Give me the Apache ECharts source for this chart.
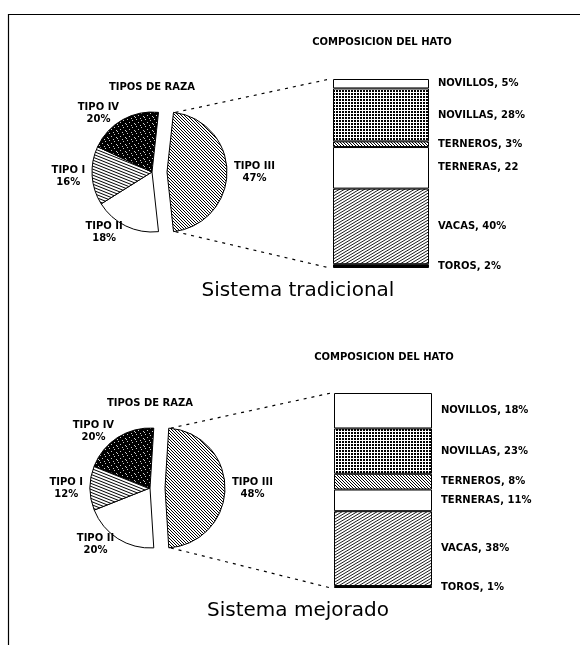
<!DOCTYPE html>
<html>
<head>
<meta charset="utf-8">
<script src="https://cdn.jsdelivr.net/npm/echarts@6/dist/echarts.min.js"></script>
<style>
  html, body { margin: 0; padding: 0; background: #fff; }
  #chart { width: 586px; height: 645px; }
</style>
</head>
<body>
<div id="chart"></div>
<script>
// Breed types, share of herd (%), in drawing order (clockwise from the exploded slice)
const breedNames = ['TIPO III', 'TIPO II', 'TIPO I', 'TIPO IV'];
const breedTradicional = [47, 18, 16, 20];
const breedMejorado = [48, 20, 12, 20];

// Herd composition (%), stacked from bottom to top
const herdNames = ['TOROS', 'VACAS', 'TERNERAS', 'TERNEROS', 'NOVILLAS', 'NOVILLOS'];
const herdTradicional = [2, 40, 22, 3, 28, 5];
const herdMejorado = [1, 38, 11, 8, 23, 18];
const herdUnitTradicional = ['%', '%', '', '%', '%', '%'];
const herdUnitMejorado = ['%', '%', '%', '%', '%', '%'];

const panelTitles = ['Sistema tradicional', 'Sistema mejorado'];
const pieTitle = 'TIPOS DE RAZA';
const barTitle = 'COMPOSICION DEL HATO';

const FONT = 'DejaVu Sans';
const INK = '#000';

// ---- fill patterns -------------------------------------------------------
function tile(w, h, draw) {
  const c = document.createElement('canvas');
  c.width = w; c.height = h;
  const g = c.getContext('2d');
  g.fillStyle = '#fff'; g.fillRect(0, 0, w, h);
  g.fillStyle = '#000';
  g.strokeStyle = '#000';
  draw(g, w, h);
  return { image: c, repeat: 'repeat' };
}
const dot = (g, x, y) => g.fillRect(x, y, 1, 1);

// parallel lines across a w x h tile, each falling `rise` px over the tile width
function hatch(w, h, rise, width) {
  return tile(w, h, g => {
    g.lineWidth = width;
    const span = Math.abs(rise) + 2 * h;
    for (let y0 = -span; y0 <= span; y0 += h) {
      g.beginPath();
      g.moveTo(-1, y0 - rise / w);
      g.lineTo(w + 1, y0 + rise + rise / w);
      g.stroke();
    }
  });
}

const backHatch = hatch(3, 3, 3, 1);      // "\\\"
const fwdHatch = hatch(5, 3, -3, 0.9);    // "///", shallower
const flatHatch = hatch(15, 3, 6, 1);     // nearly flat, sloping down to the right
const dotScreen = tile(3, 3, g => { g.fillRect(0, 0, 2, 2); });
// near-black grain
const stipple = tile(9, 7, g => {
  g.fillRect(0, 0, 9, 7);
  g.fillStyle = 'rgba(255,255,255,0.8)';
  [[1, 0], [6, 1], [3, 3], [8, 4], [0, 5], [5, 6]].forEach(p => dot(g, p[0], p[1]));
});
const white = '#ffffff';
const black = '#000000';

const breedFills = [backHatch, white, flatHatch, stipple];
const herdFills = [black, fwdHatch, white, backHatch, dotScreen, white];

// ---- panels --------------------------------------------------------------
const sum = arr => arr.reduce((a, b) => a + b, 0);

function pieSeries(values, center) {
  return {
    type: 'pie',
    center: center,
    radius: 60,
    startAngle: values[0] / sum(values) * 180,
    clockwise: true,
    selectedMode: 'single',
    selectedOffset: 15,
    avoidLabelOverlap: false,
    animation: false,
    emphasis: { disabled: true },
    itemStyle: { borderColor: INK, borderWidth: 1 },
    label: {
      show: true,
      position: 'outside',
      distanceToLabelLine: 0,
      formatter: p => `{c|${p.name}}\n{c|${p.value}%}`,
      rich: { c: { align: 'center', fontFamily: FONT, fontSize: 10, fontWeight: 'bold', color: INK, lineHeight: 12 } }
    },
    labelLine: { show: false, length: 7, length2: 0 },
    data: values.map((v, i) => ({
      name: breedNames[i],
      value: v,
      selected: i === 0,
      itemStyle: { color: breedFills[i] }
    }))
  };
}

function barSeries(values, units, gridIndex) {
  return values.map((v, i) => ({
    type: 'bar',
    name: herdNames[i],
    stack: 'herd' + gridIndex,
    xAxisIndex: gridIndex,
    yAxisIndex: gridIndex,
    barWidth: '100%',
    animation: false,
    emphasis: { disabled: true },
    itemStyle: { color: herdFills[i], borderColor: INK, borderWidth: 1 },
    label: {
      show: true,
      position: 'right',
      distance: 9,
      fontFamily: FONT,
      fontSize: 10,
      fontWeight: 'bold',
      color: INK,
      formatter: p => `${herdNames[i]}, ${p.value}${units[i]}`
    },
    data: [v]
  }));
}

const grids = [
  { left: 333, top: 79, width: 96, height: 189 },
  { left: 334, top: 393, width: 98, height: 195 }
];
const herds = [herdTradicional, herdMejorado];

const smallTitle = (text, x, y) => ({
  text, left: x, top: y, textAlign: 'center', padding: 0,
  textStyle: { fontFamily: FONT, fontSize: 10, fontWeight: 'bold', color: INK }
});
const bigTitle = (text, x, y) => ({
  text, left: x, top: y, textAlign: 'center', padding: 0,
  textStyle: { fontFamily: FONT, fontSize: 20, fontWeight: 'normal', color: INK }
});

const option = {
  backgroundColor: '#fff',
  animation: false,
  title: [
    smallTitle(barTitle, 382, 37),
    smallTitle(pieTitle, 152, 82),
    bigTitle(panelTitles[0], 298, 281),
    smallTitle(barTitle, 384, 352),
    smallTitle(pieTitle, 150, 398),
    bigTitle(panelTitles[1], 298, 601)
  ],
  grid: grids,
  xAxis: grids.map((g, i) => ({ type: 'category', gridIndex: i, data: ['hato'], show: false })),
  yAxis: grids.map((g, i) => ({
    type: 'value', gridIndex: i, min: 0, max: sum(herds[i]), show: false, splitLine: { show: false }
  })),
  series: [
    pieSeries(breedTradicional, [152, 172]),
    pieSeries(breedMejorado, [150, 488]),
    ...barSeries(herdTradicional, herdUnitTradicional, 0),
    ...barSeries(herdMejorado, herdUnitMejorado, 1)
  ]
};

const chart = echarts.init(document.getElementById('chart'), null, { renderer: 'canvas' });
chart.setOption(option);

// Dashed guides from the exploded slice to its breakdown bar, plus the page frame
function guides() {
  const model = chart.getModel();
  const els = [];
  const frame = { stroke: INK, lineWidth: 1.2 };
  els.push({ type: 'line', shape: { x1: 8.5, y1: 14, x2: 8.5, y2: 645 }, style: frame });
  els.push({ type: 'line', shape: { x1: 8, y1: 14.5, x2: 580, y2: 14.5 }, style: frame });

  [0, 1].forEach(p => {
    const pie = model.getSeriesByIndex(p);
    const lay = pie.getData().getItemLayout(0);
    const mid = (lay.startAngle + lay.endAngle) / 2;
    const off = pie.get('selectedOffset');
    const ox = lay.cx + off * Math.cos(mid);
    const oy = lay.cy + off * Math.sin(mid);
    const pA = [ox + lay.r * Math.cos(lay.startAngle), oy + lay.r * Math.sin(lay.startAngle)];
    const pB = [ox + lay.r * Math.cos(lay.endAngle), oy + lay.r * Math.sin(lay.endAngle)];
    const top = pA[1] < pB[1] ? pA : pB;
    const bottom = pA[1] < pB[1] ? pB : pA;

    const base = 2 + p * herdNames.length;
    const lo = model.getSeriesByIndex(base).getData().getItemLayout(0);
    const hi = model.getSeriesByIndex(base + herdNames.length - 1).getData().getItemLayout(0);
    const barLeft = Math.min(lo.x, lo.x + lo.width);
    const barTop = Math.min(hi.y, hi.y + hi.height);
    const barBottom = Math.max(lo.y, lo.y + lo.height);

    const dash = { stroke: INK, lineWidth: 1.2, lineDash: [3, 5] };
    els.push({ type: 'line', shape: { x1: top[0] + 2, y1: top[1], x2: barLeft - 3, y2: barTop }, style: dash });
    els.push({ type: 'line', shape: { x1: bottom[0] + 2, y1: bottom[1], x2: barLeft - 3, y2: barBottom }, style: dash });
  });
  chart.setOption({ graphic: els });
}
guides();
</script>
</body>
</html>
